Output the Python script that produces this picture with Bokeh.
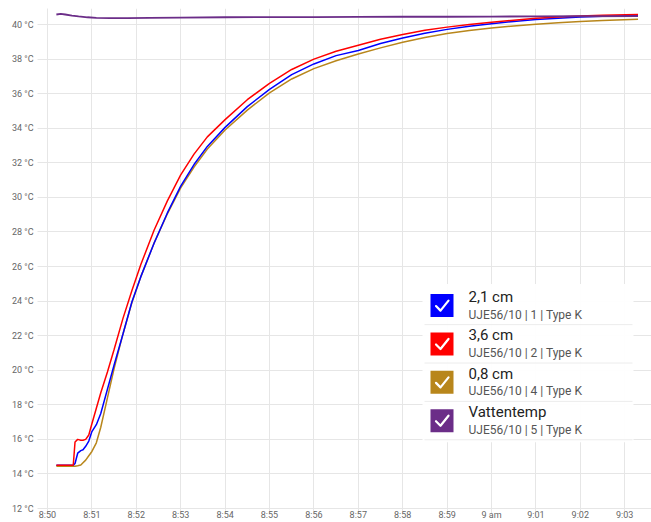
from bokeh.plotting import figure
from bokeh.models import Range1d, FixedTicker
from bokeh.embed import file_html
from bokeh.resources import INLINE
from bokeh.core.properties import value

# time in minutes after 8:50
minutes = [0.2, 0.4, 0.58, 0.62, 0.68, 0.75, 0.8, 0.86, 0.93, 1.0,
           1.1, 1.2, 1.35, 1.5, 1.7, 1.9, 2.1, 2.4, 2.7, 3.0,
           3.3, 3.6, 4.0, 4.5, 5.0, 5.5, 6.0, 6.5, 7.0, 7.5,
           8.0, 8.5, 9.0, 9.5, 10.0, 10.5, 11.0, 11.5, 12.0, 12.5,
           13.3]
temp_2_1cm = [14.5, 14.5, 14.5, 14.6, 15.2, 15.35, 15.4, 15.6, 15.9, 16.45,
              16.85, 17.5, 18.9, 20.3, 22.1, 23.95, 25.4, 27.35, 29.1, 30.65,
              31.9, 32.95, 34.05, 35.25, 36.25, 37.1, 37.72, 38.2, 38.5, 38.9,
              39.22, 39.5, 39.72, 39.9, 40.05, 40.18, 40.29, 40.37, 40.43, 40.48,
              40.52]
temp_3_6cm = [14.5, 14.5, 14.5, 15.85, 16.0, 15.95, 15.95, 16.0, 16.25, 16.9,
              17.8, 18.7, 19.9, 21.2, 23.0, 24.6, 26.1, 28.1, 29.8, 31.3,
              32.5, 33.5, 34.5, 35.65, 36.6, 37.4, 38.0, 38.45, 38.8, 39.15,
              39.42, 39.67, 39.85, 40.0, 40.13, 40.25, 40.36, 40.44, 40.5, 40.54,
              40.58]
temp_0_8cm = [14.45, 14.45, 14.45, 14.45, 14.47, 14.52, 14.65, 14.8, 15.05, 15.3,
              15.8, 16.7, 18.4, 20.1, 22.1, 23.9, 25.4, 27.35, 29.05, 30.55,
              31.75, 32.8, 33.9, 35.05, 36.05, 36.85, 37.45, 37.9, 38.3, 38.65,
              38.98, 39.25, 39.48, 39.65, 39.8, 39.92, 40.02, 40.1, 40.17, 40.23,
              40.3]
water_minutes = [0.2, 0.3, 0.4, 0.55, 0.7, 0.9, 1.1, 1.4, 1.8, 2.3,
                 3.0, 4.0, 5.0, 6.0, 7.0, 8.0, 9.0, 10.0, 11.0, 12.0, 13.3]
water_temp = [40.58, 40.62, 40.58, 40.52, 40.47, 40.42, 40.39, 40.37, 40.37, 40.38,
              40.4, 40.42, 40.43, 40.43, 40.44, 40.45, 40.45, 40.46, 40.47, 40.48, 40.49]

x_ticks = list(range(14))
x_tick_labels = ["8:50", "8:51", "8:52", "8:53", "8:54", "8:55", "8:56",
                 "8:57", "8:58", "8:59", "9 am", "9:01", "9:02", "9:03"]
y_ticks = list(range(12, 41, 2))
y_tick_labels = [f"{v} °C" for v in y_ticks]

series_names = ["2,1 cm", "3,6 cm", "0,8 cm", "Vattentemp"]
series_subs = ["UJE56/10 | 1 | Type K", "UJE56/10 | 2 | Type K",
               "UJE56/10 | 4 | Type K", "UJE56/10 | 5 | Type K"]
series_colors = ["#0000ff", "#ff0000", "#b8861b", "#6b2d88"]

FRAME_LEFT, FRAME_TOP, FRAME_W, FRAME_H = 47, 8, 604, 499
X_START, X_END = 0, 604 / 44.4
Y_START, Y_END = 12, 12 + 499 / 17.25
GRID = "#e6e6e6"
FONT = "Roboto"

p = figure(width=651, height=522, output_backend="svg", toolbar_location=None,
           x_range=Range1d(X_START, X_END), y_range=Range1d(Y_START, Y_END),
           min_border_left=FRAME_LEFT, min_border_right=0,
           min_border_top=FRAME_TOP, min_border_bottom=0)
p.outline_line_color = None
p.background_fill_color = "white"

p.xaxis.ticker = FixedTicker(ticks=x_ticks)
p.xaxis.major_label_overrides = {t: l for t, l in zip(x_ticks, x_tick_labels)}
p.yaxis.ticker = FixedTicker(ticks=y_ticks)
p.yaxis.major_label_overrides = {t: l for t, l in zip(y_ticks, y_tick_labels)}
p.xgrid.ticker = FixedTicker(ticks=x_ticks)
p.ygrid.ticker = FixedTicker(ticks=y_ticks)
for g in (p.xgrid, p.ygrid):
    g.grid_line_color = GRID
    g.grid_line_width = 1
for ax in (p.xaxis, p.yaxis):
    ax.axis_line_color = GRID
    ax.major_tick_line_color = GRID
    ax.minor_tick_line_color = None
    ax.major_tick_in = 0
    ax.major_label_text_font = FONT
    ax.major_label_text_font_size = "9px"
    ax.major_label_text_color = "#666666"
p.yaxis.major_tick_out = 10
p.yaxis.major_label_standoff = 4
p.xaxis.major_tick_out = 5
p.xaxis.major_label_standoff = -4

p.line(minutes, temp_0_8cm, line_color=series_colors[2], line_width=1.5)
p.line(minutes, temp_2_1cm, line_color=series_colors[0], line_width=1.5)
p.line(minutes, temp_3_6cm, line_color=series_colors[1], line_width=1.5)
p.line(water_minutes, water_temp, line_color=series_colors[3], line_width=1.8)


# legend (page-pixel layout converted to data space)
def dx(px):
    return X_START + (px - FRAME_LEFT) * (X_END - X_START) / FRAME_W


def dy(py):
    return Y_END - (py - FRAME_TOP) * (Y_END - Y_START) / FRAME_H


p.quad(left=dx(422), right=dx(633), top=dy(283), bottom=dy(441),
       fill_color="white", fill_alpha=0.93, line_color=None)
centers = [304.5, 342.8, 381.1, 419.4]
for i, cy in enumerate(centers):
    p.segment(x0=dx(424), y0=dy(cy + 19), x1=dx(632), y1=dy(cy + 19),
              line_color="#ececec", line_width=1)
    p.rect(x=dx(441.5), y=dy(cy), width=23, height=23,
           width_units="screen", height_units="screen",
           fill_color=series_colors[i], line_color=None)
    p.line([dx(435.5), dx(440), dx(448)], [dy(cy + 0.5), dy(cy + 5), dy(cy - 5)],
           line_color="white", line_width=2.2, line_join="round", line_cap="round")
    p.text(x=[dx(468)], y=[dy(cy - 8.5)], text=[series_names[i]],
           text_font=value(FONT), text_font_size="15px", text_color="#222222",
           text_baseline="middle", text_align="left")
    p.text(x=[dx(468)], y=[dy(cy + 9)], text=[series_subs[i]],
           text_font=value(FONT), text_font_size="12px", text_color="#555555",
           text_baseline="middle", text_align="left")

open("out.html", "w").write(file_html(p, INLINE))
